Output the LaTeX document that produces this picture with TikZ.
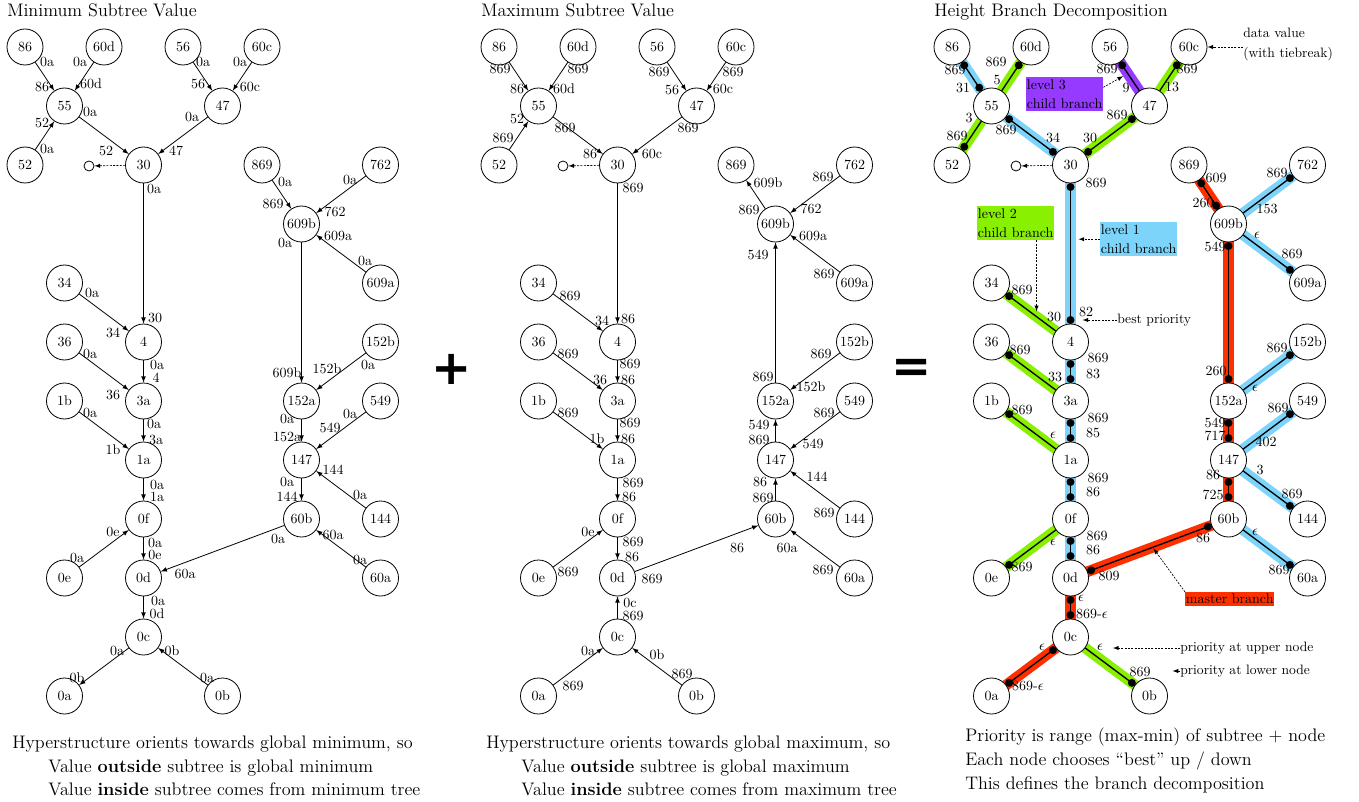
\documentclass[tikz,border=0pt]{standalone}
\usepackage{amsmath}
\usepackage{fontspec}
\newfontfamily\signfont{DejaVu Sans}
\usepackage{tikz}
\usetikzlibrary{arrows,calc,backgrounds}

\definecolor{hlblue}{RGB}{125,212,250}
\definecolor{hlgreen}{RGB}{136,240,0}
\definecolor{hlpurple}{RGB}{150,58,255}
\definecolor{hlred}{RGB}{255,48,0}

\tikzset{
  vtx/.style={circle, draw, fill=white, minimum size=27pt, inner sep=0pt, line width=0.6pt, font=\fontsize{10.5}{12}\selectfont},
  lab/.style={inner sep=0pt, font=\fontsize{10.5}{12}\selectfont},
  arc/.style={->, >=latex, line width=0.6pt},
  bar/.style={line width=1pt},
  hl/.style={line width=8pt},
  dot/.style={circle, fill=black, inner sep=0pt, minimum size=6pt},
  nil/.style={circle, draw, inner sep=0pt, minimum size=7.5pt, line width=0.6pt},
  dasharr/.style={->, >=latex, line width=0.5pt, dash pattern=on 1.5pt off 1pt},
  ttl/.style={anchor=base west, inner sep=0pt, font=\fontsize{13.6}{16}\selectfont},
  txt/.style={anchor=base west, inner sep=0pt, font=\fontsize{13.6}{16}\selectfont},
  note/.style={inner sep=0pt, align=left, font=\fontsize{10.2}{15}\selectfont},
  box/.style={inner xsep=0.5pt, inner ysep=2pt, align=left, font=\fontsize{10.5}{14}\selectfont},
  sign/.style={inner sep=0pt, font=\fontsize{36}{36}\signfont\bfseries},
}

% the same tree in every panel
\newcommand{\treenodes}{%
  \foreach \n/\i/\j in {86/0/0, 60d/2/0, 56/4/0, 60c/6/0, 55/1/1, 47/5/1,
      52/0/2, 30/3/2, 869/6/2, 762/9/2, 609b/7/3, 34/1/4, 609a/9/4,
      4/3/5, 36/1/5, 152b/9/5, 3a/3/6, 1b/1/6, 152a/7/6, 549/9/6,
      1a/3/7, 147/7/7, 0f/3/8, 60b/7/8, 144/9/8, 0e/1/9, 0d/3/9, 60a/9/9,
      0c/3/10, 0a/1/11, 0b/5/11}
    \node[vtx] (n\n) at (25+39.5*\i, 47+59*\j) {\n};
  \node[nil] (nil) at (89,166) {};
  \draw[dasharr] (n30) -- (nil);
}

\begin{document}
\begin{tikzpicture}[x={(0.75pt,0)}, y={(0,-0.75pt)}]
\useasboundingbox (0,0) rectangle (1359,802);

\node[ttl] (t1) at (7,17) {Minimum Subtree Value};
\node[ttl] (t2) at (481,17) {Maximum Subtree Value};
\node[ttl] (t3) at (934,17) {Height Branch Decomposition};

\node[sign] (plus) at (452,369) {+};
\node[sign] (eq) at (912,371) {=};

%% minimum subtree value
\begin{scope}[name prefix=a-]
\treenodes
\foreach \a/\b in {86/55, 60d/55, 56/47, 60c/47, 52/55, 55/30, 47/30, 30/4,
    34/4, 4/3a, 36/3a, 3a/1a, 1b/1a, 1a/0f, 0e/0f, 0f/0d, 60b/0d, 0d/0c,
    0c/0a, 0b/0c, 869/609b, 762/609b, 609a/609b, 609b/152a, 152b/152a,
    152a/147, 549/147, 144/147, 147/60b, 60a/60b}
  \draw[arc] (n\a) -- (n\b);
\foreach \x/\y/\t [count=\k] in {47/62/0a, 42/87/86, 80/62/0a, 91/84/60d,
    203/62/0a, 198/84/56, 240/62/0a, 250/87/60c, 47/149/0a, 42/123/52,
    90/112/0a, 106/151/52, 192/117/0a, 176/151/47, 154/189/0a, 155/318/30,
    92/293/0a, 113/333/34, 157/365/0a, 156/378/4, 90/354/0a, 113/395/36,
    154/424/0a, 156/440/3a, 90/413/0a, 113/450/1b, 157/485/0a, 157/497/1a,
    77/558/0a, 113/532/0e, 155/543/0a, 155/555/0e, 278/539/0a, 185/574/60a,
    158/601/0a, 157/614/0d, 117/651/0a, 77/678/0b, 207/678/0a, 172/651/0b,
    285/182/0a, 273/204/869, 350/180/0a, 335/212/762, 365/261/0a, 338/236/609a,
    285/243/0a, 287/373/609b, 368/365/0a, 327/369/152b, 287/419/0a, 287/437/152a,
    350/414/0a, 330/428/549, 360/495/0a, 333/470/144, 287/482/0a, 287/497/144,
    360/560/0a, 333/535/60a}
  \node[lab] (l\k) at (\x,\y) {\t};
\end{scope}

%% maximum subtree value
\begin{scope}[shift={(474,0)}, name prefix=b-]
\treenodes
\foreach \a/\b in {86/55, 60d/55, 56/47, 60c/47, 52/55, 55/30, 47/30, 30/4,
    34/4, 4/3a, 36/3a, 3a/1a, 1b/1a, 1a/0f, 0e/0f, 0f/0d, 0d/60b, 0c/0d,
    0a/0c, 0b/0c, 609b/869, 762/609b, 609a/609b, 152a/609b, 152b/152a,
    147/152a, 549/147, 144/147, 60b/147, 60a/60b}
  \draw[arc] (n\a) -- (n\b);
\foreach \x/\y/\t [count=\k] in {26/69/869, 43/89/86, 104/69/869, 90/89/60d,
    185/72/869, 198/90/56, 259/72/869, 249/89/60c, 29/138/869, 43/119/52,
    91/128/869, 116/154/86, 214/128/869, 178/154/60c, 159/188/869, 154/319/86,
    96/296/869, 128/321/34, 156/364/869, 154/380/86, 94/354/869, 126/380/36,
    156/423/869, 154/439/86, 94/413/869, 123/439/1b, 159/483/869, 155/497/86,
    94/572/869, 114/532/0e, 159/542/869, 158/557/86, 178/579/869, 263/548/86,
    159/616/869, 156/603/0c, 99/686/869, 114/651/0a, 208/674/869, 183/655/0b,
    275/210/869, 294/183/609b, 349/177/869, 337/209/762, 350/274/869, 339/236/609a,
    289/377/869, 284/255/549, 347/354/869, 337/387/152b, 285/440/869, 285/425/549,
    350/413/869, 339/444/549, 350/513/869, 343/477/144, 289/498/869, 286/482/86,
    349/570/869, 313/548/60a}
  \node[lab] (l\k) at (\x,\y) {\t};
\end{scope}

%% height branch decomposition
\begin{scope}[shift={(927,0)}, name prefix=c-]
\treenodes
\foreach \a/\b/\c in {86/55/hlblue, 60d/55/hlgreen, 52/55/hlgreen, 55/30/hlblue,
    56/47/hlpurple, 60c/47/hlgreen, 47/30/hlgreen, 30/4/hlblue, 34/4/hlgreen,
    4/3a/hlblue, 36/3a/hlgreen, 3a/1a/hlblue, 1b/1a/hlgreen, 1a/0f/hlblue,
    0e/0f/hlgreen, 0f/0d/hlblue, 0d/60b/hlred, 0d/0c/hlred, 0c/0a/hlred,
    0c/0b/hlgreen, 869/609b/hlred, 762/609b/hlblue, 609b/609a/hlblue,
    609b/152a/hlred, 152b/152a/hlblue, 152a/147/hlred, 549/147/hlblue,
    147/144/hlblue, 147/60b/hlred, 60b/60a/hlblue}{
  \begin{scope}[on background layer]
    \draw[hl, draw=\c] (n\a.center) -- (n\b.center);
  \end{scope}
  \draw[bar] (n\a) -- (n\b);
}
\foreach \a/\b [count=\k] in {86/55, 55/86, 60d/55, 52/55, 55/30, 30/55, 56/47,
    60c/47, 47/30, 30/47, 30/4, 4/30, 34/4, 4/3a, 3a/4, 36/3a, 3a/1a, 1a/3a,
    1b/1a, 1a/0f, 0f/1a, 0e/0f, 0f/0d, 0d/0f, 0d/60b, 60b/0d, 0d/0c, 0c/0d,
    0c/0a, 0a/0c, 0b/0c, 869/609b, 609b/869, 762/609b, 609a/609b, 609b/152a,
    152a/609b, 152b/152a, 152a/147, 147/152a, 549/147, 144/147, 147/60b,
    60b/147, 60a/60b}
  \node[dot] (d\k) at ($(n\a.center)!16.5pt!(n\b.center)$) {};
\foreach \x/\y/\t [count=\k] in {28/70/869, 36/88/31, 69/62/869, 70/80/5,
    30/136/869, 42/118/3, 79/130/869, 126/138/34, 180/69/869, 199/88/9,
    260/69/869, 245/87/13, 190/115/869, 163/138/30, 169/183/869, 159/312/82,
    95/290/869, 127/317/30, 171/358/869, 166/374/83, 93/350/869, 128/377/33,
    171/418/869, 166/433/85, 95/410/869, 126/435/$\epsilon$,
    171/478/869, 166/492/86, 95/567/869, 126/542/$\epsilon$,
    170/536/869, 166/550/86, 182/576/809, 276/538/86,
    154/598/$\epsilon$, 165/614/869-$\epsilon$, 115/647/$\epsilon$, 101/686/869-$\epsilon$,
    173/647/$\epsilon$, 213/672/869, 289/178/609, 276/203/260,
    350/173/869, 340/209/153, 330/235/$\epsilon$, 365/254/869,
    288/247/549, 289/371/260, 350/348/869, 328/388/$\epsilon$,
    288/423/549, 288/436/717, 351/408/869, 339/442/402,
    333/470/3, 365/494/869, 286/475/86, 286/495/725,
    328/532/$\epsilon$, 352/570/869}
  \node[lab] (l\k) at (\x,\y) {\t};
\end{scope}

% notes on the decomposition
\node[note, anchor=north west] (dv) at (1243,28) {data value\\(with tiebreak)};
\draw[dasharr] (c-n60c.east -| dv.west) -- (c-n60c.east);

\node[box, fill=hlpurple, anchor=north west] (l3) at (1026,77) {level 3\\child branch};
\draw[dasharr, shorten >=4pt] ($(l3.north east)!0.3!(l3.south east)$) -- ($(c-n56.center)!0.45!(c-n47.center)$);

\node[box, fill=hlgreen, anchor=north west] (l2) at (977,206) {level 2\\child branch};
\coordinate (t2e) at ($(c-n34.center)!0.57!(c-n4.center)$);
\draw[dasharr, shorten >=4pt] (t2e |- l2.south) -- (t2e);

\node[box, fill=hlblue, anchor=north west] (l1) at (1100,222) {level 1\\child branch};
\draw[dasharr, shorten >=6pt] (l1.west) -- (l1.west -| c-n30.center);

\node[note, anchor=west] (bp) at (1117,320) {best priority};
\draw[dasharr, shorten >=9pt] (bp.west) -- (bp.west -| c-n4.center);

\node[box, fill=hlred, anchor=north west, inner ysep=1.5pt] (mb) at (1185,592) {master branch};
\draw[dasharr, shorten >=1pt] (mb.north west) -- ($(c-n0d.center)!0.52!(c-n60b.center)$);

\node[note, anchor=west] (pu) at (1180,648) {priority at upper node};
\draw[dasharr] (pu.west) -- ($(pu.west -| c-n0c.east)+(24,0)$);
\node[note, anchor=west] (pl) at (1180,671) {priority at lower node};
\draw[dasharr] (pl.west) -- ($(pl.west -| c-n0b.center)+(23,0)$);

% captions
\node[txt] (a1) at (12,748) {Hyperstructure orients towards global minimum, so};
\node[txt] (a2) at (48,772) {Value \textbf{outside} subtree is global minimum};
\node[txt] (a3) at (48,795) {Value \textbf{inside} subtree comes from minimum tree};
\node[txt] (b1) at (486,748) {Hyperstructure orients towards global maximum, so};
\node[txt] (b2) at (521,772) {Value \textbf{outside} subtree is global maximum};
\node[txt] (b3) at (521,795) {Value \textbf{inside} subtree comes from maximum tree};
\node[txt] (c1) at (965,741) {Priority is range (max-min) of subtree + node};
\node[txt] (c2) at (965,765) {Each node chooses ``best'' up / down};
\node[txt] (c3) at (965,789) {This defines the branch decomposition};

\end{tikzpicture}
\end{document}
